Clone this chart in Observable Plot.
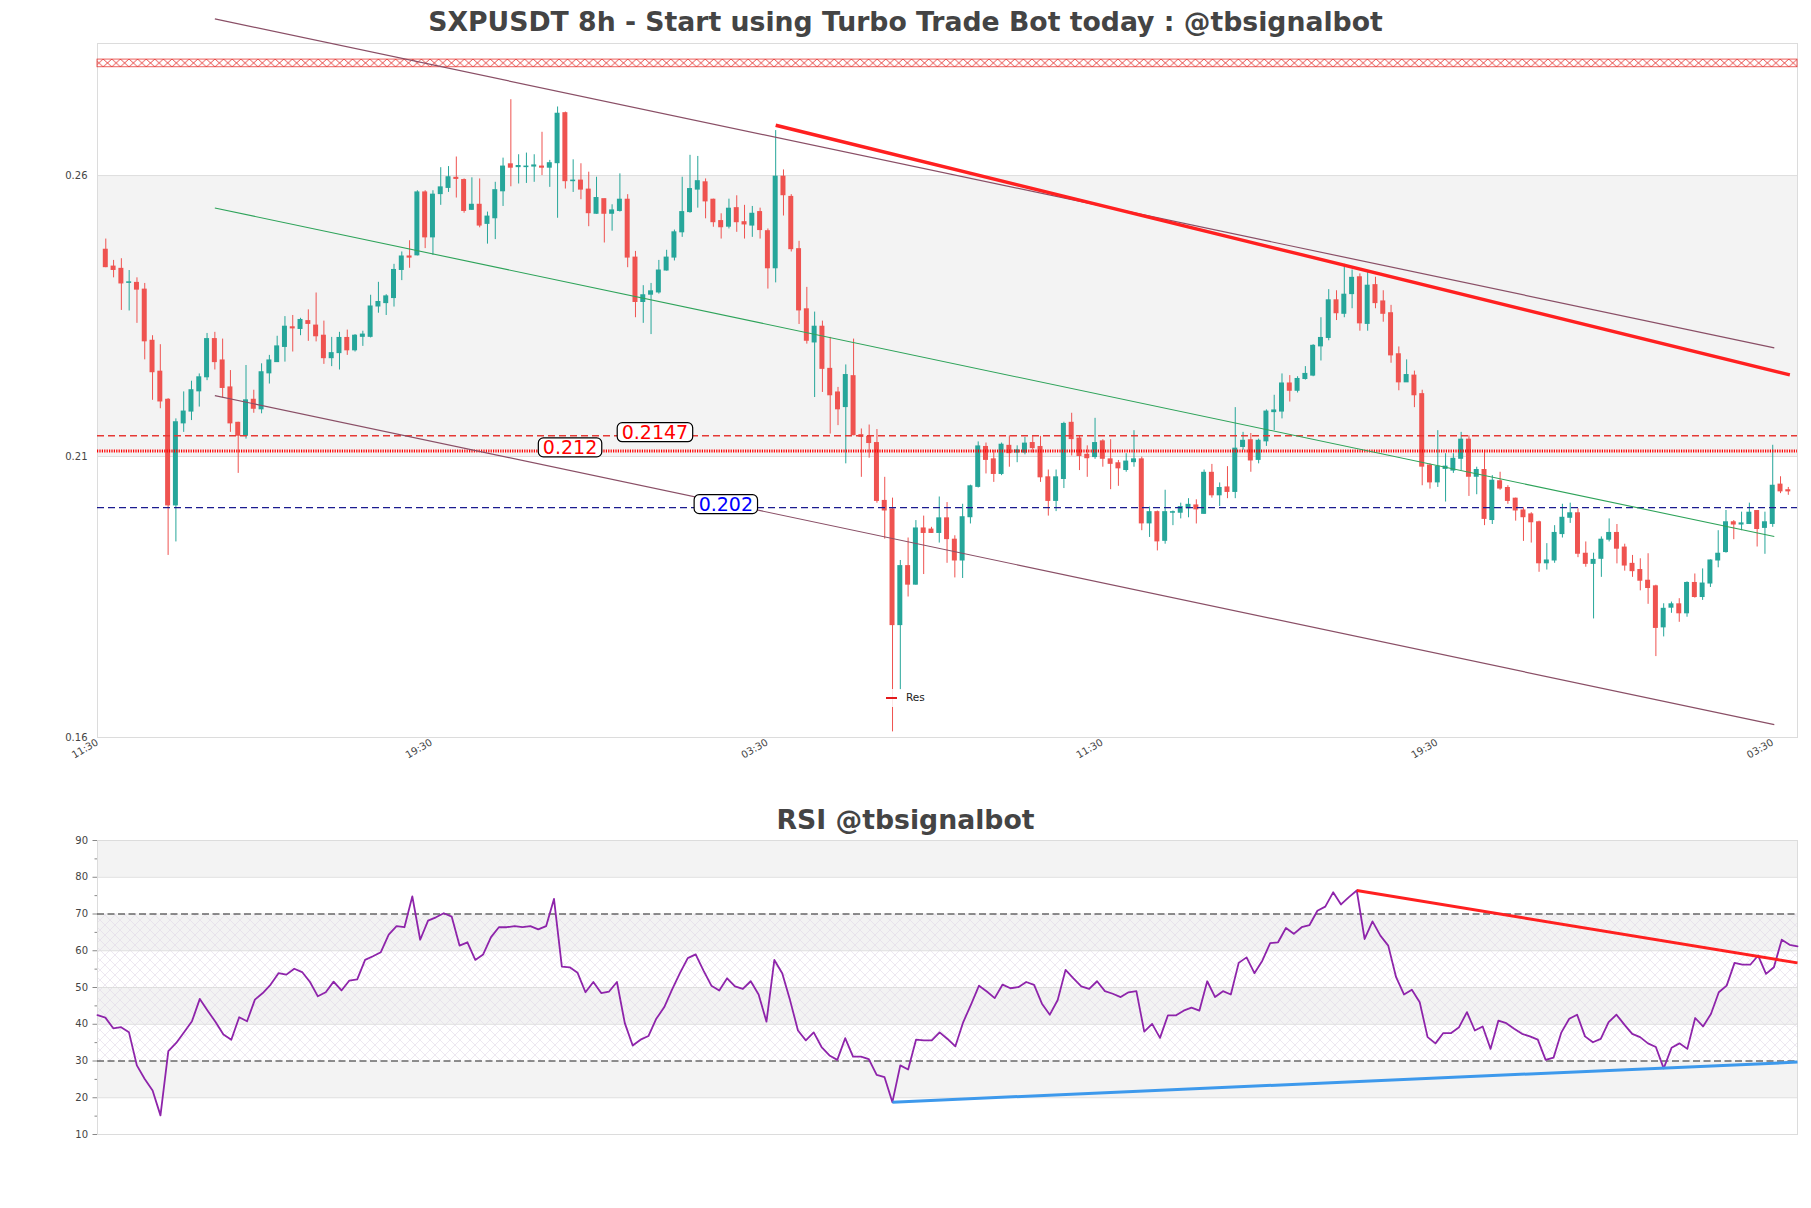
<!DOCTYPE html>
<html>
<head>
<meta charset="utf-8">
<script src="https://cdn.jsdelivr.net/npm/d3@7"></script>
<script src="https://cdn.jsdelivr.net/npm/@observablehq/plot@0.6"></script>
<style>
  body { margin: 0; background: #fff; font-family: "DejaVu Sans", sans-serif; }
  #wrap { position: relative; width: 1811px; height: 1208px; overflow: hidden; background: #fff; }
  #wrap > svg { position: absolute; left: 0; }
  .title { position: absolute; left: 0; width: 1811px; text-align: center; font-weight: bold;
           font-size: 26.7px; line-height: 26px; color: #444; font-family: "DejaVu Sans", sans-serif; }
</style>
</head>
<body>
<svg width="0" height="0" style="position:absolute">
  <defs>
    <pattern id="redx" patternUnits="userSpaceOnUse" x="0" y="59" width="8.6" height="7.7">
      <path d="M0,0L8.6,7.7M0,7.7L8.6,0" stroke="#e53935" stroke-width="0.9" fill="none"/>
    </pattern>
    <pattern id="rsihatch" patternUnits="userSpaceOnUse" x="0" y="0" width="10" height="10">
      <path d="M0,0L10,10M0,10L10,0" stroke="#e0d9e8" stroke-width="0.6" fill="none"/>
    </pattern>
  </defs>
</svg>
<div id="wrap">
  <div class="title" style="top:9px">SXPUSDT 8h - Start using Turbo Trade Bot today : @tbsignalbot</div>
  <div class="title" style="top:807px">RSI @tbsignalbot</div>
</div>
<script>
// ---------- DATA ----------
const open = [.2468,.2438,.2434,.2409,.2409,.2397,.2306,.2251,.2201,.2013,.2159,.2180,.2216,.2241,.2309,.2271,.2223,.2160,.2137,.2201,
.2184,.2248,.2268,.2295,.2330,.2327,.2341,.2333,.2315,.2275,.2284,.2311,.2289,.2313,.2313,.2367,.2373,.2382,.2432,.2456,
.2458,.2570,.2490,.2567,.2578,.2596,.2592,.2539,.2548,.2514,.2524,.2572,.2620,.2615,.2615,.2616,.2616,.2614,.2622,.2711,
.2590,.2591,.2575,.2532,.2558,.2532,.2537,.2557,.2454,.2375,.2388,.2392,.2431,.2454,.2499,.2535,.2575,.2588,.2557,.2519,
.2509,.2542,.2517,.2511,.2535,.2501,.2435,.2598,.2562,.2469,.2362,.2303,.2331,.2256,.2214,.2188,.2243,.2138,.2135,.2124,
.2021,.2006,.1800,.1905,.1872,.1972,.1970,.1964,.1990,.1952,.1915,.1992,.2046,.2117,.2095,.2069,.2119,.2107,.2107,.2124,
.2117,.2063,.2021,.2060,.2160,.2132,.2103,.2099,.2127,.2095,.2088,.2076,.2090,.2095,.1981,.2001,.1950,.2000,.2000,.2008,
.2013,.1998,.2071,.2031,.2045,.2037,.2117,.2129,.2094,.2127,.2179,.2180,.2230,.2217,.2238,.2244,.2296,.2311,.2378,.2354,
.2389,.2419,.2336,.2405,.2376,.2355,.2282,.2232,.2244,.2211,.2084,.2054,.2078,.2075,.2096,.2130,.2064,.2076,.1987,.2056,
.2044,.2025,.2004,.1997,.1983,.1910,.1915,.1962,.1991,.1999,.1927,.1909,.1918,.1952,.1964,.1938,.1909,.1898,.1879,.1869,
.1796,.1831,.1837,.1821,.1875,.1850,.1874,.1915,.1930,.1983,.1979,.1980,.2003,.1973,.1980,.2050,.2040];
const high = [.2487,.2449,.2452,.2431,.2418,.2408,.2315,.2299,.2203,.2167,.2215,.2234,.2247,.2319,.2321,.2309,.2253,.2161,.2262,.2218,
.2265,.2280,.2314,.2349,.2351,.2346,.2361,.2391,.2341,.2312,.2321,.2325,.2317,.2323,.2387,.2410,.2388,.2442,.2464,.2484,
.2573,.2573,.2573,.2614,.2616,.2633,.2594,.2596,.2594,.2535,.2588,.2631,.2735,.2637,.2640,.2637,.2677,.2627,.2722,.2713,
.2628,.2621,.2606,.2597,.2558,.2548,.2603,.2566,.2465,.2404,.2408,.2449,.2467,.2503,.2597,.2636,.2634,.2594,.2558,.2532,
.2558,.2564,.2547,.2545,.2542,.2505,.2680,.2610,.2566,.2483,.2401,.2357,.2341,.2312,.2223,.2263,.2309,.2149,.2156,.2148,
.2063,.2026,.1915,.1955,.1986,.1994,.1974,.2028,.2018,.1959,.2015,.2049,.2126,.2124,.2111,.2124,.2137,.2119,.2134,.2137,
.2136,.2076,.2076,.2161,.2177,.2137,.2119,.2168,.2130,.2130,.2093,.2105,.2146,.2099,.2010,.2003,.2040,.2003,.2017,.2025,
.2023,.2076,.2086,.2053,.2082,.2187,.2143,.2141,.2131,.2183,.2209,.2247,.2244,.2242,.2260,.2299,.2347,.2397,.2395,.2442,
.2432,.2425,.2430,.2419,.2395,.2369,.2295,.2272,.2252,.2218,.2087,.2146,.2105,.2105,.2143,.2137,.2081,.2111,.2066,.2072,
.2048,.2026,.2009,.2000,.1985,.1945,.1977,.2015,.2017,.2007,.1948,.1928,.1957,.1989,.1979,.1944,.1924,.1918,.1927,.1871,
.1838,.1841,.1847,.1877,.1891,.1900,.1916,.1968,.2004,.1986,.2001,.2017,.2004,.2001,.2120,.2064,.2045];
const low = [.2436,.2418,.2360,.2359,.2337,.2272,.2200,.2185,.1924,.1948,.2143,.2164,.2188,.2235,.2254,.2204,.2143,.2070,.2131,.2177,
.2176,.2229,.2268,.2268,.2286,.2315,.2305,.2304,.2264,.2260,.2254,.2280,.2286,.2296,.2311,.2355,.2351,.2366,.2413,.2435,
.2457,.2470,.2458,.2547,.2570,.2560,.2533,.2538,.2507,.2478,.2486,.2545,.2580,.2585,.2586,.2588,.2600,.2579,.2524,.2576,
.2570,.2557,.2509,.2531,.2480,.2501,.2535,.2436,.2347,.2337,.2317,.2389,.2430,.2448,.2490,.2533,.2542,.2523,.2508,.2487,
.2505,.2499,.2487,.2490,.2487,.2398,.2409,.2528,.2464,.2335,.2300,.2205,.2214,.2140,.2155,.2087,.2137,.2063,.2097,.2017,
.1953,.1610,.1684,.1850,.1871,.1890,.1963,.1946,.1910,.1884,.1883,.1980,.2044,.2069,.2054,.2066,.2081,.2089,.2103,.2106,
.2054,.1994,.2002,.2043,.2101,.2075,.2063,.2095,.2081,.2041,.2047,.2072,.2081,.1968,.1956,.1932,.1944,.1977,.1989,.1991,
.1980,.1997,.2026,.2011,.2025,.2025,.2111,.2072,.2087,.2118,.2146,.2167,.2197,.2213,.2236,.2242,.2270,.2306,.2342,.2347,
.2363,.2323,.2323,.2363,.2339,.2266,.2217,.2232,.2187,.2048,.2042,.2045,.2019,.2070,.2075,.2029,.2032,.1977,.1979,.2040,
.2015,.1985,.1949,.1946,.1894,.1898,.1910,.1955,.1981,.1920,.1903,.1811,.1885,.1948,.1909,.1896,.1885,.1861,.1837,.1744,
.1779,.1821,.1805,.1814,.1848,.1844,.1867,.1902,.1928,.1952,.1968,.1979,.1939,.1926,.1974,.2034,.2031];
const close = [.2437,.2432,.2408,.2410,.2397,.2305,.2250,.2198,.2013,.2161,.2180,.2218,.2241,.2309,.2268,.2222,.2159,.2137,.2200,.2185,
.2250,.2271,.2296,.2331,.2328,.2343,.2336,.2314,.2275,.2284,.2311,.2289,.2315,.2317,.2367,.2375,.2385,.2432,.2456,.2454,
.2570,.2490,.2566,.2579,.2597,.2594,.2537,.2548,.2511,.2527,.2574,.2616,.2614,.2617,.2616,.2618,.2614,.2622,.2710,.2590,
.2591,.2575,.2533,.2560,.2532,.2538,.2557,.2454,.2375,.2387,.2394,.2431,.2454,.2499,.2535,.2576,.2590,.2554,.2517,.2508,
.2541,.2517,.2513,.2532,.2503,.2435,.2598,.2565,.2469,.2360,.2306,.2331,.2256,.2209,.2184,.2245,.2138,.2135,.2124,.2021,
.2004,.1800,.1905,.1872,.1972,.1964,.1964,.1990,.1953,.1915,.1992,.2047,.2118,.2094,.2069,.2121,.2106,.2111,.2123,.2115,
.2063,.2021,.2063,.2158,.2131,.2101,.2097,.2124,.2096,.2087,.2079,.2091,.2095,.1981,.2001,.1949,.2001,.2001,.2010,.2014,
.2006,.2071,.2031,.2044,.2037,.2114,.2128,.2093,.2128,.2180,.2182,.2230,.2217,.2238,.2247,.2297,.2311,.2378,.2355,.2388,
.2418,.2337,.2404,.2373,.2354,.2280,.2232,.2245,.2209,.2082,.2054,.2082,.2082,.2096,.2130,.2064,.2076,.1989,.2057,.2043,
.2021,.2004,.1992,.1983,.1910,.1915,.1964,.1991,.1999,.1927,.1909,.1916,.1952,.1964,.1936,.1906,.1896,.1879,.1866,.1795,
.1829,.1837,.1821,.1875,.1850,.1874,.1915,.1927,.1983,.1979,.1981,.2000,.1971,.1983,.2048,.2038,.2038];

const rsi = [42.5,41.8,38.9,39.2,37.8,28.8,25.1,22.0,15.2,32.7,34.9,37.8,40.8,46.9,43.7,40.6,37.2,35.8,41.9,40.8,
46.7,48.5,50.8,53.9,53.5,55.1,54.2,51.5,47.6,48.7,51.6,49.2,51.9,52.2,57.5,58.5,59.6,64.4,66.7,66.4,
74.8,63.0,68.2,69.1,70.2,69.3,61.4,62.3,57.5,59.0,63.7,66.4,66.4,66.7,66.4,66.7,65.8,66.7,74.1,55.7,
55.5,54.0,48.7,51.5,48.5,48.9,51.5,40.3,34.2,35.8,36.8,41.5,44.6,49.4,53.9,58.0,59.0,54.6,50.5,49.2,
52.5,50.3,49.6,51.7,48.1,40.7,57.5,53.9,46.5,38.3,35.6,37.8,33.8,31.5,30.3,36.2,31.2,31.2,30.5,26.2,
25.6,18.8,28.8,27.7,35.8,35.6,35.6,37.8,36.0,34.0,40.6,45.4,50.5,48.9,47.1,50.8,49.8,50.1,51.5,50.7,
45.6,42.6,46.6,54.8,52.5,50.3,49.6,51.7,49.0,48.3,47.4,48.7,49.0,38.0,40.1,36.3,42.4,42.4,43.7,44.5,
43.7,51.7,47.4,49.0,48.1,56.7,58.2,53.9,57.3,62.1,62.3,66.2,64.6,66.4,67.0,70.9,72.0,75.9,72.6,74.6,
76.4,63.2,68.0,64.1,61.4,52.8,48.1,49.4,46.0,36.5,34.8,37.6,37.6,39.2,43.3,38.3,39.4,33.3,41.0,40.3,
38.8,37.4,36.7,35.8,30.3,30.9,37.8,41.5,42.6,36.7,35.1,36.0,40.6,42.6,39.9,37.4,36.5,34.8,33.8,28.0,
33.6,34.8,33.3,41.7,39.4,42.8,48.7,50.5,56.7,56.2,56.2,58.7,53.7,55.5,63.0,61.6,61.2];

// x-axis ticks (candle index) and their labels
const xTickIndex = [-1.06, 41.8, 84.9, 127.9, 170.9, 214.0];
const xTickLabels = ["11:30", "19:30", "03:30", "11:30", "19:30", "03:30"];
const yTicks = [0.16, 0.21, 0.26];
const priceBand = [0.21, 0.26];
const hatchZone = [0.27927, 0.28064];

// horizontal levels: value, label text, label anchor (candle index)
const levelValues = [0.2137, 0.2110, 0.2009];
const levelLabels = ["0.2147", "0.212", "0.202"];
const levelLabelIndex = [70.5, 59.6, 79.6];

// channel lines (upper, middle, lower) and resistance trendline: [i1, p1, i2, p2]
const channelUpper = [14, 0.28787, 214.2, 0.22934];
const channelMid = [14, 0.25423, 214.2, 0.19576];
const channelLower = [14, 0.22085, 214.2, 0.1623];
const resistance = [86, 0.26895, 216.2, 0.22454];

// RSI panel
const rsiTicks = [10, 20, 30, 40, 50, 60, 70, 80, 90];
const rsiMinorTicks = [15, 25, 35, 45, 55, 65, 75, 85];
const rsiGrayBands = [[80, 90], [60, 70], [40, 50], [20, 30]];
const rsiHatch = [30, 70];
const rsiGrid = [20, 40, 50, 60, 80];
const rsiLevels = [70, 30];
const rsiRedTrend = [160, 76.4, 216, 56.7];
const rsiBlueTrend = [101, 18.8, 216, 29.7];

// ---------- BUILD ----------
const GREEN = "#26a69a", RED = "#ef5350";
const candles = open.map((o, i) => ({i, o, h: high[i], l: low[i], c: close[i], col: close[i] >= o ? GREEN : RED}));
const xDomain = [-1.065, 217.18];
const link = (a) => ({x1: a[0], y1: a[1], x2: a[2], y2: a[3]});
const tickMap = new Map(xTickIndex.map((d, k) => [d, xTickLabels[k]]));
const labelColors = ["#ff0000", "#ff0000", "#0000ff"];

const wrap = document.getElementById("wrap");

const main = Plot.plot({
  width: 1811, height: 800,
  marginLeft: 97, marginRight: 14, marginTop: 43, marginBottom: 63,
  style: {fontFamily: "DejaVu Sans", fontSize: "10px", color: "#444", background: "transparent", overflow: "visible"},
  x: {domain: xDomain, label: null},
  y: {domain: [0.16, 0.2835], label: null},
  color: {type: "identity"},
  marks: [
    Plot.rect([priceBand], {x1: () => xDomain[0], x2: () => xDomain[1], y1: d => d[0], y2: d => d[1], fill: "#f3f3f3"}),
    Plot.ruleY(yTicks.slice(1), {stroke: "#dedede"}),
    Plot.frame({stroke: "#dcdcdc"}),
    Plot.rect([hatchZone], {x1: () => xDomain[0], x2: () => xDomain[1], y1: d => d[0], y2: d => d[1],
      fill: "url(#redx)", stroke: "#e53935", strokeWidth: 0.8}),
    Plot.ruleX(candles, {x: "i", y1: "l", y2: "h", stroke: "col", strokeWidth: 1}),
    Plot.rect(candles, {x1: d => d.i - 0.32, x2: d => d.i + 0.32, y1: "o", y2: "c", fill: "col",
      insetTop: -0.5, insetBottom: -0.5}),
    Plot.ruleY([levelValues[0]], {stroke: "#e53935", strokeDasharray: "7,4", strokeWidth: 1.3}),
    Plot.ruleY([levelValues[1]], {stroke: "#ff0000", strokeDasharray: "1.2,1.2", strokeWidth: 3}),
    Plot.ruleY([levelValues[2]], {stroke: "#1b1b8f", strokeDasharray: "7,4", strokeWidth: 1.3}),
    Plot.link([link(channelUpper)], {x1: "x1", y1: "y1", x2: "x2", y2: "y2", stroke: "#8a4f66", strokeWidth: 1.2}),
    Plot.link([link(channelLower)], {x1: "x1", y1: "y1", x2: "x2", y2: "y2", stroke: "#8a4f66", strokeWidth: 1.2}),
    Plot.link([link(channelMid)], {x1: "x1", y1: "y1", x2: "x2", y2: "y2", stroke: "#2ea35a", strokeWidth: 1.1}),
    Plot.link([link(resistance)], {x1: "x1", y1: "y1", x2: "x2", y2: "y2", stroke: "#ff2020", strokeWidth: 3.4}),
    ...levelLabels.map((t, k) => Plot.text([k], {x: () => levelLabelIndex[k], y: () => levelValues[k], text: () => t,
      fill: labelColors[k], fontSize: 19, dy: -2.6})),
    Plot.axisY(yTicks, {tickFormat: d3.format(".2f"), tickSize: 0, tickPadding: 10, label: null, fill: "#444"}),
    Plot.axisX(xTickIndex, {tickFormat: d => tickMap.get(d), tickRotate: -30, tickSize: 0, tickPadding: 4,
      label: null, fill: "#444", fontSize: 10})
  ]
});
main.style.top = "0px";
wrap.appendChild(main);

// boxes behind the level labels
main.querySelectorAll("text").forEach(t => {
  if (!levelLabels.includes(t.textContent)) return;
  const b = t.getBBox();
  const r = document.createElementNS("http://www.w3.org/2000/svg", "rect");
  r.setAttribute("x", b.x - 4.5);
  r.setAttribute("y", b.y + 1.5);
  r.setAttribute("width", b.width + 9);
  r.setAttribute("height", b.height - 3);
  r.setAttribute("rx", 5);
  r.setAttribute("fill", "#fff");
  r.setAttribute("stroke", "#000");
  r.setAttribute("stroke-width", 1.2);
  if (t.getAttribute("transform")) r.setAttribute("transform", t.getAttribute("transform"));
  t.parentNode.insertBefore(r, t);
});
// align red hatch pattern with its band
const ys = main.scale("y");
document.getElementById("redx").setAttribute("y", ys.apply(hatchZone[1]));

// legend "Res"
const leg = document.createElement("div");
leg.style.cssText = "position:absolute;left:881px;top:689px;width:50px;height:18px;background:rgba(255,255,255,0.85);";
leg.innerHTML = '<div style="position:absolute;left:5px;top:8px;width:11px;height:2px;background:#e31a1c"></div>' +
  '<div style="position:absolute;left:25px;top:2px;font-size:10.5px;line-height:12px;color:#222;font-family:DejaVu Sans">Res</div>';
wrap.appendChild(leg);

// ---------- RSI ----------
const rsiPlot = Plot.plot({
  width: 1811, height: 408,
  marginLeft: 97, marginRight: 14, marginTop: 40, marginBottom: 74,
  style: {fontFamily: "DejaVu Sans", fontSize: "10px", color: "#444", background: "transparent", overflow: "visible"},
  x: {domain: [0, rsi.length - 1], axis: null},
  y: {domain: [10, 90], label: null},
  marks: [
    Plot.rect(rsiGrayBands, {x1: () => 0, x2: () => rsi.length - 1, y1: d => d[0], y2: d => d[1], fill: "#f3f3f3"}),
    Plot.rect([rsiHatch], {x1: () => 0, x2: () => rsi.length - 1, y1: d => d[0], y2: d => d[1], fill: "url(#rsihatch)"}),
    Plot.ruleY(rsiGrid, {stroke: "#dedede"}),
    Plot.frame({stroke: "#dcdcdc"}),
    Plot.ruleY(rsiLevels, {stroke: "#222", strokeDasharray: "7,3.5", strokeWidth: 1.2}),
    Plot.line(rsi, {x: (d, i) => i, y: d => d, stroke: "#8e24aa", strokeWidth: 1.8}),
    Plot.link([link(rsiRedTrend)], {x1: "x1", y1: "y1", x2: "x2", y2: "y2", stroke: "#ff2020", strokeWidth: 3}),
    Plot.link([link(rsiBlueTrend)], {x1: "x1", y1: "y1", x2: "x2", y2: "y2", stroke: "#3d99ec", strokeWidth: 3}),
    Plot.axisY(rsiTicks, {tickSize: 4.5, tickPadding: 5, label: null, fill: "#444", stroke: "#888"}),
    Plot.axisY(rsiMinorTicks, {tickSize: 2.5, tickFormat: () => "", label: null, stroke: "#888"})
  ]
});
rsiPlot.style.top = "800px";
wrap.appendChild(rsiPlot);
</script>
</body>
</html>
